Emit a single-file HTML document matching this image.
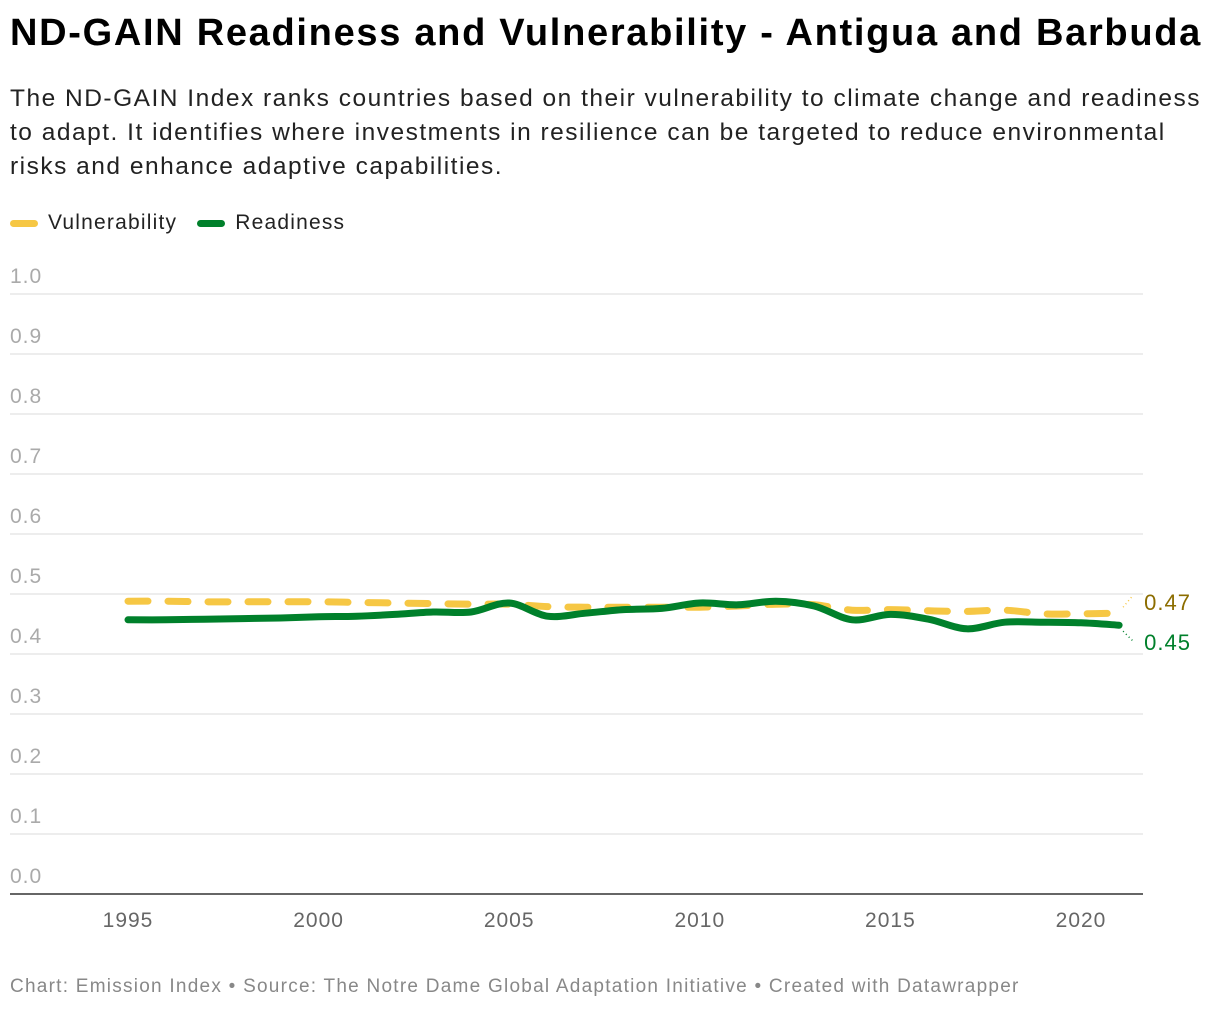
<!DOCTYPE html>
<html><head><meta charset="utf-8"><style>
body{margin:0;background:#fff;font-family:"Liberation Sans",sans-serif;}
#wrap{position:relative;width:1220px;height:1010px;}
h1{position:absolute;left:10px;top:12px;margin:0;font-size:38px;font-weight:bold;color:#000;letter-spacing:1.7px;white-space:nowrap}
.desc{position:absolute;left:10px;top:82px;width:1215px;font-size:24.5px;line-height:34px;color:#222;letter-spacing:1.5px;white-space:nowrap}
.legend{position:absolute;left:10px;top:211px;font-size:21px;color:#222;display:flex;align-items:center;letter-spacing:1.2px}
.sw{display:inline-block;width:28px;height:7px;border-radius:4px;margin-right:10px}
.foot{position:absolute;left:10px;top:976px;font-size:19px;color:#888;letter-spacing:1.25px;white-space:nowrap}
</style></head><body>
<div id="wrap">
<h1>ND-GAIN Readiness and Vulnerability - Antigua and Barbuda</h1>
<div class="desc">The ND-GAIN Index ranks countries based on their vulnerability to climate change and readiness<br>to adapt. It identifies where investments in resilience can be targeted to reduce environmental<br>risks and enhance adaptive capabilities.</div>
<div class="legend">
<span class="sw" style="background:#f6c744"></span><span style="margin-right:20px">Vulnerability</span>
<span class="sw" style="background:#00802b"></span><span>Readiness</span>
</div>
<svg id="chart" width="1220" height="1010" style="position:absolute;left:0;top:0"></svg>
<div class="foot">Chart: Emission Index • Source: The Notre Dame Global Adaptation Initiative • Created with Datawrapper</div>
</div>
<script>
const years=[1995,1996,1997,1998,1999,2000,2001,2002,2003,2004,2005,2006,2007,2008,2009,2010,2011,2012,2013,2014,2015,2016,2017,2018,2019,2020,2021];
const readiness=[0.457,0.457,0.458,0.459,0.460,0.462,0.463,0.466,0.470,0.470,0.485,0.463,0.468,0.474,0.476,0.485,0.482,0.488,0.480,0.457,0.466,0.458,0.442,0.453,0.453,0.452,0.448];
const vulnerability=[0.488,0.488,0.487,0.487,0.487,0.487,0.486,0.485,0.484,0.483,0.483,0.479,0.478,0.478,0.478,0.478,0.480,0.483,0.482,0.473,0.474,0.472,0.471,0.473,0.467,0.467,0.468];
const yTicks=[0,0.1,0.2,0.3,0.4,0.5,0.6,0.7,0.8,0.9,1.0];
const xTicks=[1995,2000,2005,2010,2015,2020];
const NS="http://www.w3.org/2000/svg";
const svg=document.getElementById('chart');
const X=y=>128+(y-1995)*38.12;
const Y=v=>894-v*600;
function mk(t,a,parent){const e=document.createElementNS(NS,t);for(const k in a)e.setAttribute(k,a[k]);(parent||svg).appendChild(e);return e;}
yTicks.forEach(v=>{
  const g=mk('line',{x1:10,x2:1143,y1:Y(v),y2:Y(v),stroke:v===0?'#333':'#e2e2e2','stroke-width':v===0?1.5:1.2});
  
  
  const t=mk('text',{x:10,y:Y(v)-11,'font-size':21,fill:'#aaa','font-family':'Liberation Sans','letter-spacing':1});
  t.textContent=v.toFixed(1);
  
  
});
xTicks.forEach(yr=>{
  const t=mk('text',{x:X(yr),y:927,'font-size':21,fill:'#666','text-anchor':'middle','font-family':'Liberation Sans','letter-spacing':1});
  t.textContent=yr;
  
  
});
function path(vals){
  const p=vals.map((v,i)=>[X(years[i]),Y(v)]);
  let d='M'+p[0][0]+','+p[0][1];
  for(let i=0;i<p.length-1;i++){
    const p0=p[Math.max(0,i-1)],p1=p[i],p2=p[i+1],p3=p[Math.min(p.length-1,i+2)];
    const c1=[p1[0]+(p2[0]-p0[0])/6,p1[1]+(p2[1]-p0[1])/6];
    const c2=[p2[0]-(p3[0]-p1[0])/6,p2[1]-(p3[1]-p1[1])/6];
    d+=' C'+c1+' '+c2+' '+p2;
  }
  return d;
}
const vl=mk('path',{d:path(vulnerability),fill:'none',stroke:'#f6c744','stroke-width':7,'stroke-dasharray':'20 20','stroke-linecap':'round'});


const rl=mk('path',{d:path(readiness),fill:'none',stroke:'#00802b','stroke-width':7,'stroke-linecap':'round'});


const lv=vulnerability[vulnerability.length-1], lr=readiness[readiness.length-1], lx=X(years[years.length-1]);
const c1=mk('line',{x1:lx+4,y1:Y(lv)-6,x2:lx+14,y2:Y(lv)-18,stroke:'#f6c744','stroke-width':1.5,'stroke-dasharray':'1 3'});


const c2=mk('line',{x1:lx+4,y1:Y(lr)+6,x2:lx+14,y2:Y(lr)+16,stroke:'#00802b','stroke-width':1.5,'stroke-dasharray':'1 3'});


const l1=mk('text',{x:lx+25,y:Y(lv)-3,'font-size':22,fill:'#8c6d00','font-family':'Liberation Sans','letter-spacing':1});
l1.textContent=lv.toFixed(2);


const l2=mk('text',{x:lx+25,y:Y(lr)+25,'font-size':22,fill:'#00802b','font-family':'Liberation Sans','letter-spacing':1});
l2.textContent=lr.toFixed(2);


</script>
</body></html>
